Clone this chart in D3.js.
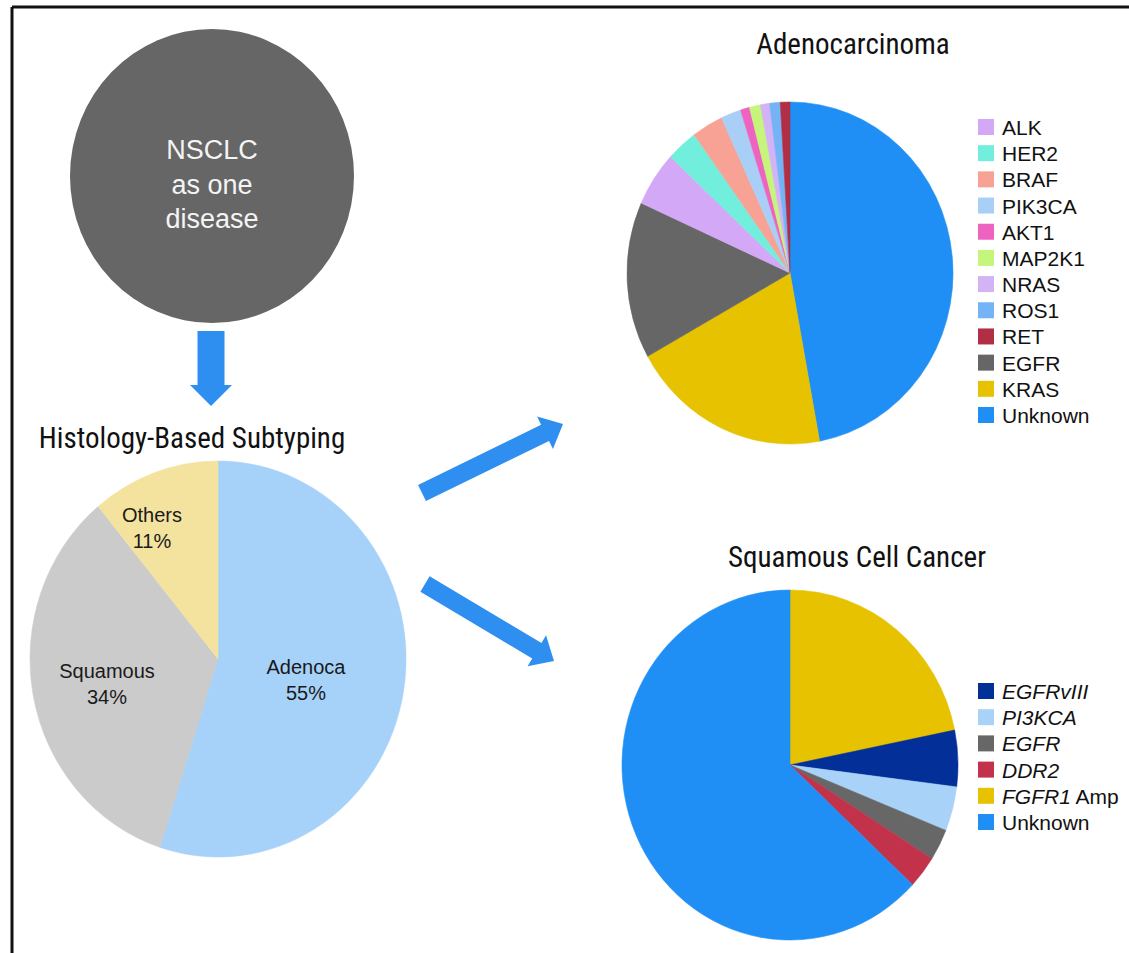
<!DOCTYPE html>
<html>
<head>
<meta charset="utf-8">
<script src="https://cdn.jsdelivr.net/npm/d3@7"></script>
<style>
  html, body { margin: 0; padding: 0; background: #fff; }
  svg { display: block; }
  .cond { font-family: "Liberation Sans Narrow", "Roboto Condensed", "DejaVu Sans Condensed", sans-serif; }
  .sans { font-family: "Liberation Sans", Arial, Helvetica, sans-serif; }
</style>
</head>
<body>
<svg id="fig" width="1129" height="953"></svg>
<script>
// Histology split of NSCLC
const histCategories = ["Adenoca", "Squamous", "Others"];
const histValues = [55, 34, 11];

// Adenocarcinoma drivers, clockwise from 12 o'clock
const adenoCategories = ["Unknown", "KRAS", "EGFR", "ALK", "HER2", "BRAF", "PIK3CA", "AKT1", "MAP2K1", "NRAS", "ROS1", "RET"];
const adenoValues = [47.1, 19.8, 14.8, 5.2, 3.1, 3.1, 2.0, 0.9, 1.1, 0.9, 1.05, 0.95];
const adenoLegend = ["ALK", "HER2", "BRAF", "PIK3CA", "AKT1", "MAP2K1", "NRAS", "ROS1", "RET", "EGFR", "KRAS", "Unknown"];

// Squamous cell drivers, clockwise from 12 o'clock
const squamCategories = ["FGFR1 Amp", "EGFRvIII", "PI3KCA", "EGFR", "DDR2", "Unknown"];
const squamValues = [21.8, 5.2, 4.1, 2.9, 3.0, 63.0];
const squamLegend = ["EGFRvIII", "PI3KCA", "EGFR", "DDR2", "FGFR1 Amp", "Unknown"];

// palettes
const histColor = d3.scaleOrdinal(histCategories, ["#a6d1f9", "#cbcbcb", "#f3e39e"]);
const adenoColor = d3.scaleOrdinal(adenoCategories,
  ["#1f8ff5", "#e6c200", "#666666", "#d3a9f7", "#72efdc", "#f8a295", "#a9cff6", "#ef63c0", "#c6f57c", "#d2b3f5", "#74b3f5", "#b02f45"]);
const squamColor = d3.scaleOrdinal(squamCategories,
  ["#e6c200", "#022f98", "#a8d2f8", "#676767", "#c2324b", "#1f8ff5"]);

const arrowBlue = "#2e8ff0";
const svg = d3.select("#fig");

// frame
svg.append("line").attr("x1", 12).attr("y1", 7).attr("x2", 1129).attr("y2", 7)
  .attr("stroke", "#111").attr("stroke-width", 3);
svg.append("line").attr("x1", 12).attr("y1", 7).attr("x2", 12).attr("y2", 953)
  .attr("stroke", "#111").attr("stroke-width", 3);

// NSCLC as one disease
svg.append("ellipse").attr("cx", 212).attr("cy", 176).attr("rx", 142).attr("ry", 147).attr("fill", "#666666");
["NSCLC", "as one", "disease"].forEach((t, i) => {
  svg.append("text").attr("class", "sans").attr("x", 212).attr("y", 159 + i * 34.5)
    .attr("text-anchor", "middle").attr("font-size", 27).attr("fill", "#f4f4f4").text(t);
});

// arrow polygon from tail to tip
function arrow(x0, y0, x1, y1, shaftW, headW, headL) {
  const dx = x1 - x0, dy = y1 - y0, L = Math.hypot(dx, dy);
  const ux = dx / L, uy = dy / L, nx = -uy, ny = ux;
  const bx = x1 - ux * headL, by = y1 - uy * headL;
  const pts = [
    [x0 + nx * shaftW / 2, y0 + ny * shaftW / 2],
    [bx + nx * shaftW / 2, by + ny * shaftW / 2],
    [bx + nx * headW / 2, by + ny * headW / 2],
    [x1, y1],
    [bx - nx * headW / 2, by - ny * headW / 2],
    [bx - nx * shaftW / 2, by - ny * shaftW / 2],
    [x0 - nx * shaftW / 2, y0 - ny * shaftW / 2]
  ];
  svg.append("path").attr("d", d3.line()(pts) + "Z").attr("fill", arrowBlue);
}
arrow(211, 331, 211, 406, 27, 42, 21);
arrow(422, 493, 563, 424, 18, 36, 20);
arrow(425, 584, 554, 661, 18, 36, 20);

// pie helper: ellipse-ish pie starting at 12 o'clock, clockwise
const pie = d3.pie().sort(null).value(d => d.v);
function drawPie(cx, cy, rx, ry, cats, vals, color) {
  const data = cats.map((c, i) => ({ c, v: vals[i] }));
  const arc = d3.arc().innerRadius(0).outerRadius(ry);
  const g = svg.append("g").attr("transform", `translate(${cx},${cy}) scale(${rx / ry},1)`);
  g.selectAll("path").data(pie(data)).join("path")
    .attr("d", arc).attr("fill", d => color(d.data.c))
    .attr("stroke", d => color(d.data.c)).attr("stroke-width", 0.6);
  return g;
}

// Histology-Based Subtyping
svg.append("text").attr("class", "cond").attr("x", 192).attr("y", 448)
  .attr("text-anchor", "middle").attr("font-size", 29).attr("fill", "#111")
  .text("Histology-Based Subtyping");
drawPie(218, 659, 188, 198, histCategories, histValues, histColor);
const histLabels = [
  { c: "Adenoca", x: 306, y: 674 },
  { c: "Squamous", x: 107, y: 678 },
  { c: "Others", x: 152, y: 522 }
];
histLabels.forEach(l => {
  const i = histCategories.indexOf(l.c);
  const t = svg.append("text").attr("class", "sans").attr("text-anchor", "middle")
    .attr("font-size", 20).attr("fill", "#1a1a1a");
  t.append("tspan").attr("x", l.x).attr("y", l.y).text(l.c);
  t.append("tspan").attr("x", l.x).attr("y", l.y + 26).text(histValues[i] + "%");
});

// Adenocarcinoma
svg.append("text").attr("class", "cond").attr("x", 853).attr("y", 54)
  .attr("text-anchor", "middle").attr("font-size", 29).attr("fill", "#111").text("Adenocarcinoma");
drawPie(790, 273, 163, 171, adenoCategories, adenoValues, adenoColor);

const legY = d3.scalePoint().domain(adenoLegend).range([127, 415]);
const lg = svg.append("g");
adenoLegend.forEach(c => {
  lg.append("rect").attr("x", 978).attr("y", legY(c) - 8).attr("width", 16).attr("height", 16).attr("fill", adenoColor(c));
  lg.append("text").attr("class", "sans").attr("x", 1002).attr("y", legY(c) + 8)
    .attr("font-size", 21).attr("fill", "#111").text(c);
});

// Squamous Cell Cancer
svg.append("text").attr("class", "cond").attr("x", 857).attr("y", 567)
  .attr("text-anchor", "middle").attr("font-size", 29).attr("fill", "#111").text("Squamous Cell Cancer");
drawPie(790, 765, 168, 175, squamCategories, squamValues, squamColor);

const sqY = d3.scalePoint().domain(squamLegend).range([691, 822]);
squamLegend.forEach(c => {
  lg.append("rect").attr("x", 978).attr("y", sqY(c) - 8).attr("width", 16).attr("height", 16).attr("fill", squamColor(c));
  const t = lg.append("text").attr("class", "sans").attr("x", 1002).attr("y", sqY(c) + 8)
    .attr("font-size", 21).attr("fill", "#111");
  if (c === "Unknown") {
    t.text(c);
  } else if (c === "FGFR1 Amp") {
    t.append("tspan").attr("font-style", "italic").text("FGFR1");
    t.append("tspan").text(" Amp");
  } else {
    t.attr("font-style", "italic").text(c);
  }
});
</script>
</body>
</html>
